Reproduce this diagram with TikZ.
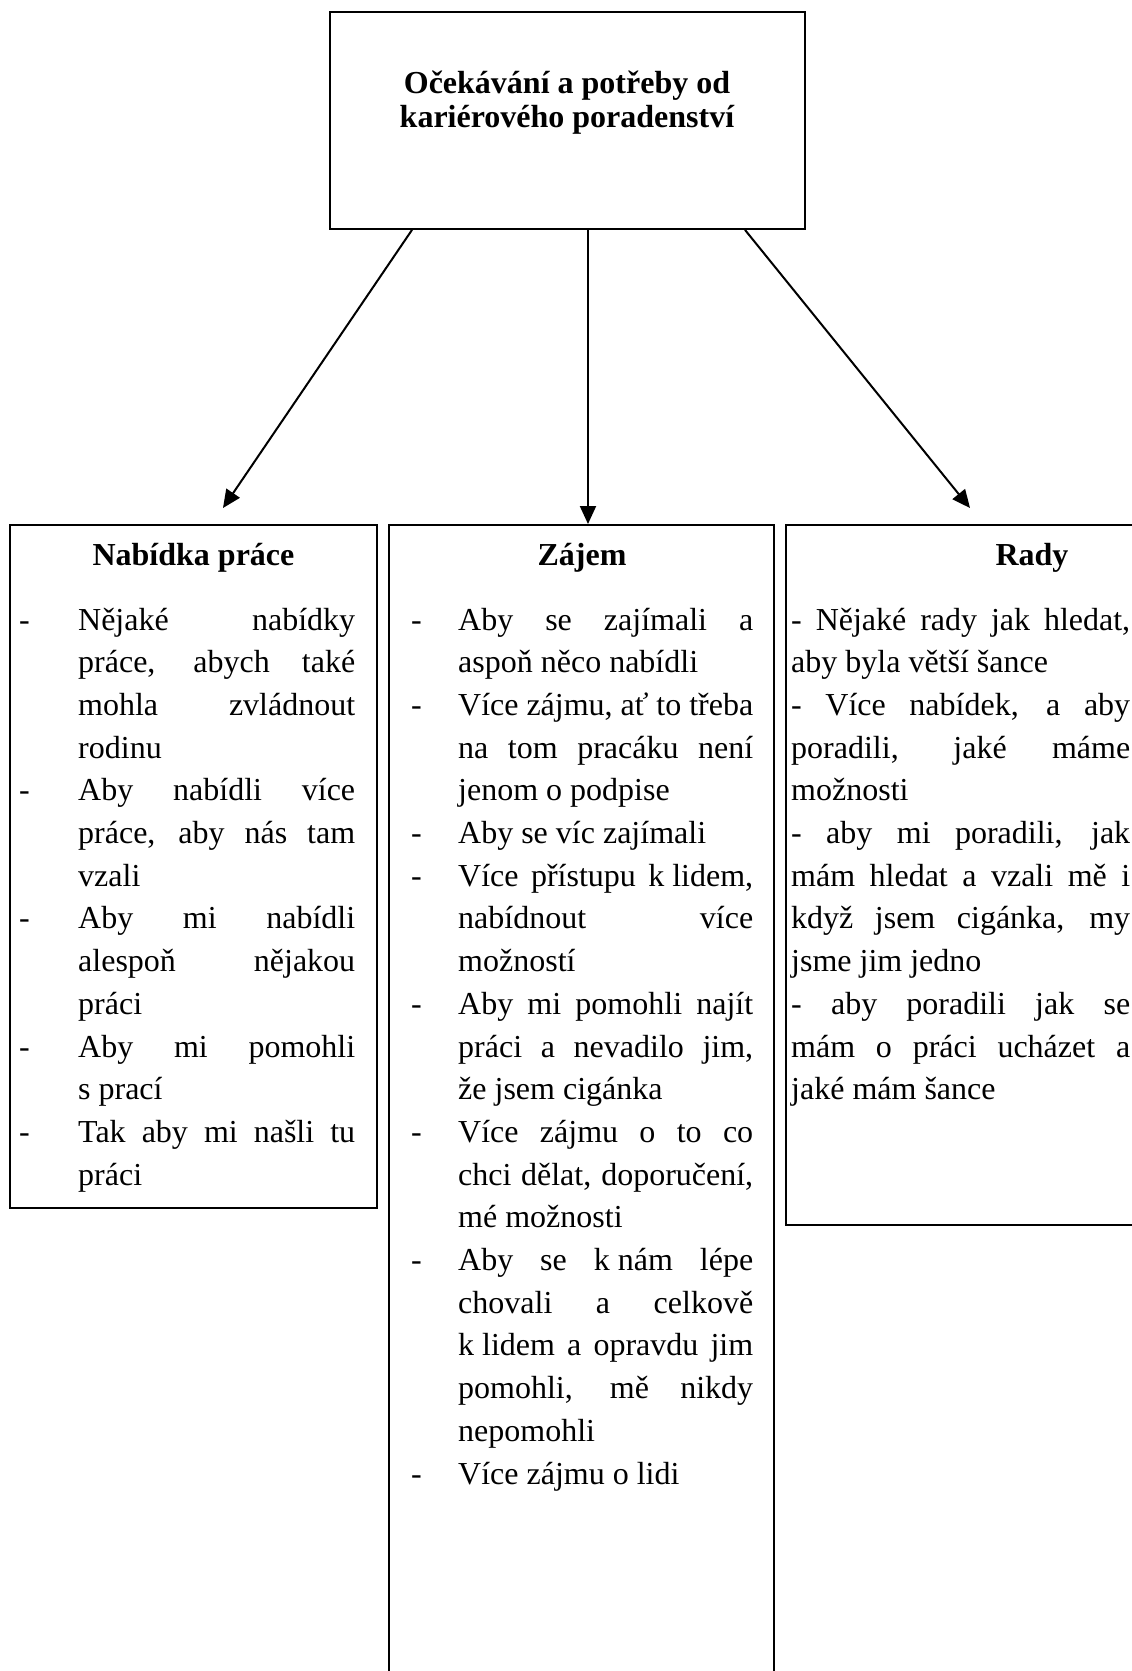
\documentclass[tikz,border=0pt]{standalone}
\usepackage{fontspec}
\setmainfont{Liberation Serif}
\usetikzlibrary{arrows.meta}
\newlength\dashw
\newlength\txtw
\newcommand\jline[1]{\hbox to\txtw{#1}}
\newcommand\lline[1]{\hbox to\txtw{#1\hfil}}
\newcommand\dl{\makebox[\dashw][l]{-}}
\newcommand\nd{\hspace*{\dashw}}
\newcommand\fsp{\kern0.25em}
\hbadness=10000
\tikzset{
 frame/.style={draw, line width=1.8pt, rectangle, inner sep=0pt},
 arr/.style={-{Triangle[length=18pt,width=16pt]}, line width=2pt},
 head/.style={font=\fontsize{32}{34}\selectfont\bfseries, inner sep=0pt, anchor=base},
 col/.style={inner sep=0pt, anchor=base west, font=\fontsize{32}{42.7}\selectfont},
}
\begin{document}
\begin{tikzpicture}[x=1pt,y=-1pt]
\path[use as bounding box, clip] (0,0) rectangle (1132,1671);
\fill[white] (0,0) rectangle (1132,1671);
% top box
\node[frame, minimum width=475pt, minimum height=217pt] (top) at (567.5,120.5) {};
\node[head, anchor=center, align=center] (ttl) at (567,103) {Očekávání a potřeby od\\kariérového poradenství};
% boxes
\node[frame, minimum width=367pt, minimum height=683pt, anchor=north west] (bl) at (9,524) {};
\node[frame, minimum width=385pt, minimum height=1200pt, anchor=north west] (bm) at (388,524) {};
\node[frame, minimum width=400pt, minimum height=700pt, anchor=north west] (br) at (785,524) {};
% headings
\node[head] (h1) at (193.5,565) {Nabídka práce};
\node[head] (h2) at (582,565) {Zájem};
\node[head] (h3) at (1032,565) {Rady};
% left column
\node[col] (c1) at (19,630) {\setlength\dashw{59pt}\setlength\txtw{277pt}%
\begin{tabular}[t]{@{}l@{}}
\dl\jline{Nějaké nabídky}\\
\nd\jline{práce, abych také}\\
\nd\jline{mohla zvládnout}\\
\nd\lline{rodinu}\\
\dl\jline{Aby nabídli více}\\
\nd\jline{práce, aby nás tam}\\
\nd\lline{vzali}\\
\dl\jline{Aby mi nabídli}\\
\nd\jline{alespoň nějakou}\\
\nd\lline{práci}\\
\dl\jline{Aby mi pomohli}\\
\nd\lline{s\fsp prací}\\
\dl\jline{Tak aby mi našli tu}\\
\nd\lline{práci}
\end{tabular}};
% middle column
\node[col] (c2) at (411,630) {\setlength\dashw{47pt}\setlength\txtw{295pt}%
\begin{tabular}[t]{@{}l@{}}
\dl\jline{Aby se zajímali a}\\
\nd\lline{aspoň něco nabídli}\\
\dl\jline{Více zájmu, ať to třeba}\\
\nd\jline{na tom pracáku není}\\
\nd\lline{jenom o podpise}\\
\dl\lline{Aby se víc zajímali}\\
\dl\jline{Více přístupu k\fsp lidem,}\\
\nd\jline{nabídnout více}\\
\nd\lline{možností}\\
\dl\jline{Aby mi pomohli najít}\\
\nd\jline{práci a nevadilo jim,}\\
\nd\lline{že jsem cigánka}\\
\dl\jline{Více zájmu o to co}\\
\nd\jline{chci dělat, doporučení,}\\
\nd\lline{mé možnosti}\\
\dl\jline{Aby se k\fsp nám lépe}\\
\nd\jline{chovali a celkově}\\
\nd\jline{k\fsp lidem a opravdu jim}\\
\nd\jline{pomohli, mě nikdy}\\
\nd\lline{nepomohli}\\
\dl\lline{Více zájmu o lidi}
\end{tabular}};
% right column
\node[col] (c3) at (791,630) {\setlength\txtw{339pt}%
\begin{tabular}[t]{@{}l@{}}
\jline{- Nějaké rady jak hledat,}\\
\lline{aby byla větší šance}\\
\jline{- Více nabídek, a aby}\\
\jline{poradili, jaké máme}\\
\lline{možnosti}\\
\jline{- aby mi poradili, jak}\\
\jline{mám hledat a vzali mě i}\\
\jline{když jsem cigánka, my}\\
\lline{jsme jim jedno}\\
\jline{- aby poradili jak se}\\
\jline{mám o práci ucházet a}\\
\lline{jaké mám šance}
\end{tabular}};
% arrows
\coordinate (e1) at (223,508);
\coordinate (e3) at (970,508);
\draw[arr] ([xshift=-155.5pt]top.south) -- (e1);
\draw[arr] ([xshift=20.5pt]top.south) -- ([xshift=20.5pt]top.south |- bm.north);
\draw[arr] ([xshift=177.5pt]top.south) -- (e3);
\end{tikzpicture}
\end{document}
